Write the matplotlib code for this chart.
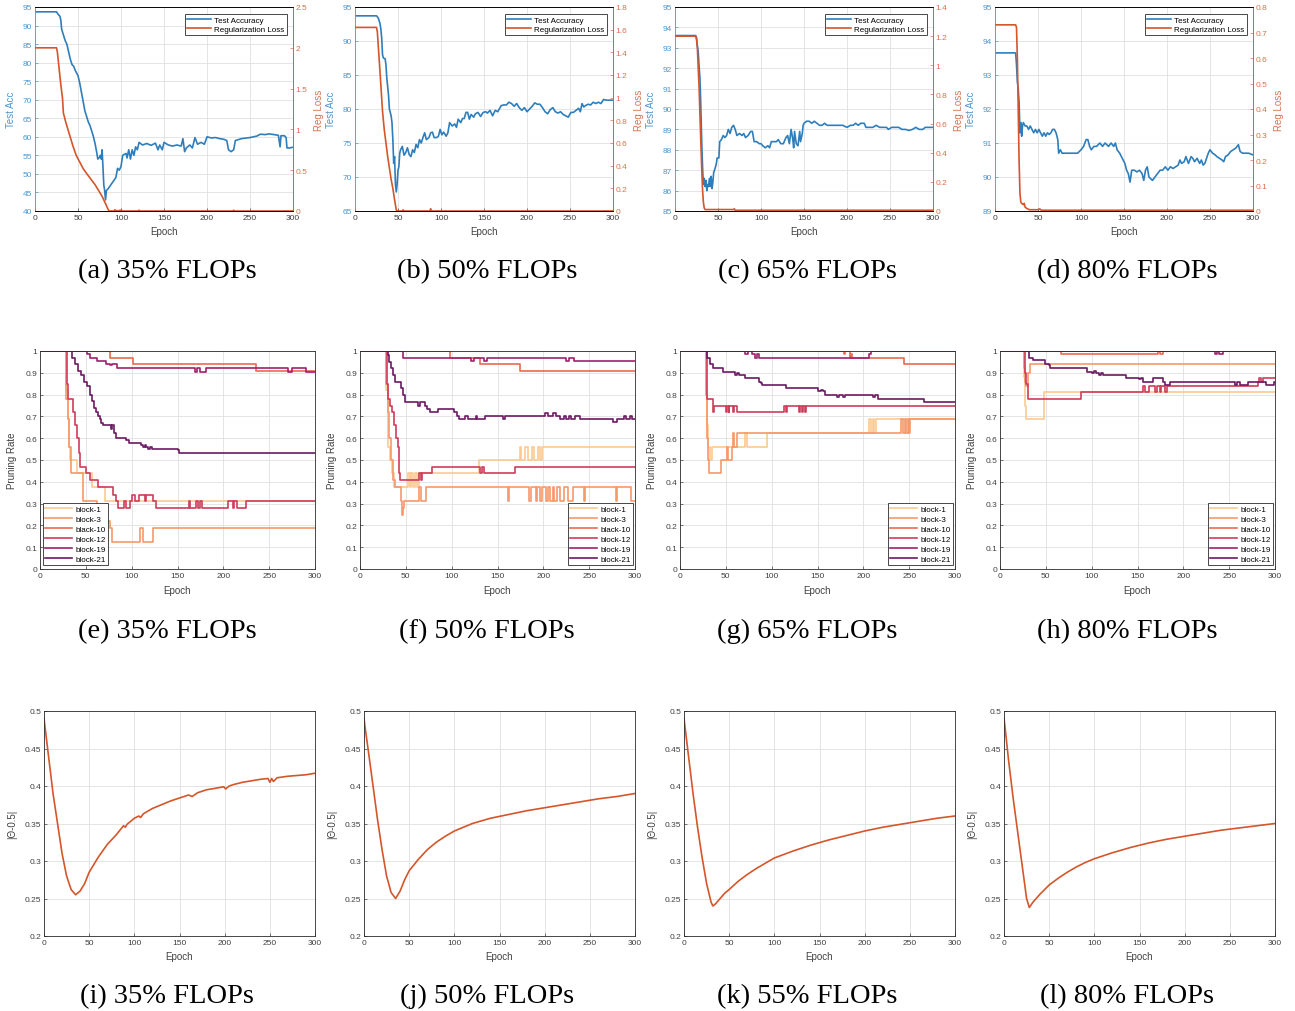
import numpy as np
import matplotlib
matplotlib.use("Agg")
import matplotlib.pyplot as plt
from matplotlib.ticker import FuncFormatter

# ---------------- data (epoch, value) ----------------
epochs_ticks = [0, 50, 100, 150, 200, 250, 300]

# row 1: test accuracy (left axis) and regularization loss (right axis)
a_acc = [(0,93.7),(25,93.7),(27,93),(29,92.5),(30,91.5),(31,89),(33,87.5),(35,86),(37,85),(39,83),(41,81),(43,79.5),(45,79),(47,77.8),(50,76.5),(52,74.5),(54,72),(56,69.5),(58,67),(60,65.5),(62,64),(64,63),(66,61.5),(68,60),(70,58),(72,55.5),(73,54),(75,54.5),(76,55),(77,54),(78,56.5),(79,52),(80,47),(81,45.5),(82,43),(83,45.5),(85,46),(88,47),(91,48),(94,49),(96,51.5),(98,51),(100,52),(102,55),(104,55.3),(106,55.5),(107,54.3),(109,56.5),(111,54),(113,56.5),(115,55),(117,57.3),(119,56.5),(121,58.5),(125,57.8),(130,58.2),(135,57.7),(140,58.3),(143,56.5),(145,57.8),(148,56.5),(150,58.5),(155,57.8),(160,57.5),(165,57.8),(170,57.5),(172,59.5),(174,56),(176,57),(180,57.8),(183,57),(186,59.8),(189,58),(193,58.5),(197,58),(200,60),(205,59.7),(210,59.8),(215,59.5),(220,59.3),(223,59),(225,56.5),(228,56),(231,56.5),(233,59),(240,59.5),(250,59.8),(258,60.2),(262,60.7),(268,60.6),(272,60.8),(278,60.6),(283,60.4),(285,57.3),(286,60.3),(290,60.3),(292,59.8),(293,57),(296,57),(300,57.2)]
a_loss = [(0,2.0),(25,2.0),(26,1.95),(28,1.75),(30,1.55),(32,1.38),(33,1.2),(36,1.08),(40,0.94),(44,0.8),(48,0.68),(52,0.6),(56,0.52),(60,0.46),(65,0.39),(70,0.32),(74,0.25),(78,0.18),(82,0.09),(85,0.02),(86,0.0),(92,0.0),(93,0.015),(95,0.0),(100,0.01),(102,0.0),(120,0.0),(121,0.01),(122,0.0),(230,0.0),(231,0.01),(232,0.0),(300,0.0)]

b_acc = [(0,93.7),(25,93.7),(27,93.4),(29,92.6),(30,91.8),(31,90.5),(32,88),(33,87.5),(35,87.4),(36,86.5),(37,84.5),(39,82),(40,80),(42,79),(43,78),(44,75.5),(45,72),(46,73),(47,69),(48,67.8),(49,69),(50,71),(51,71.5),(52,73.5),(53,74),(55,74.5),(57,73.2),(59,73.6),(61,74.3),(63,73.3),(65,73),(67,74),(69,73.6),(71,74.8),(73,74.3),(75,75.5),(77,75),(79,75.8),(81,76.5),(83,75.5),(86,75.8),(88,76.5),(90,76.6),(92,75.8),(95,75.8),(97,76),(99,77),(101,76.2),(103,76.6),(106,76),(108,76.5),(110,78),(113,77.5),(116,77.8),(118,77.3),(120,78.5),(123,78),(125,78.6),(127,78.6),(129,79.5),(131,79.5),(133,78.5),(135,79.2),(138,78.8),(140,79.3),(143,79.5),(146,78.9),(149,79.5),(152,79.6),(154,79.4),(157,79.8),(160,79),(163,79.8),(166,79.6),(170,80.5),(173,80.6),(176,80.6),(179,81),(182,80.8),(185,80.4),(188,80.8),(191,80.2),(194,79.8),(197,80.2),(200,79.6),(203,80),(206,80.4),(209,80.9),(212,80.7),(215,80.7),(218,80.2),(221,79.6),(224,79.3),(227,79.9),(230,80.2),(233,79.6),(236,79.4),(239,79.6),(242,79.2),(245,79),(248,78.8),(251,79.5),(254,79.5),(257,79.8),(260,80.1),(262,79.6),(264,80.8),(266,80.3),(268,80.5),(271,80.7),(274,80.6),(277,81),(280,80.8),(283,81),(286,80.8),(289,81.4),(292,81.3),(296,81.3),(300,81.3)]
b_loss = [(0,1.62),(25,1.62),(26,1.58),(28,1.35),(30,1.12),(32,0.88),(34,0.72),(36,0.6),(38,0.48),(40,0.38),(42,0.28),(44,0.2),(46,0.1),(48,0.01),(49,0.0),(55,0.0),(56,0.01),(57,0.0),(87,0.0),(88,0.02),(89,0.0),(300,0.0)]

c_acc = [(0,93.6),(24,93.6),(25,93.5),(26,93.1),(27,92.8),(28,92.1),(29,91.5),(30,90.2),(31,88.5),(32,87.2),(33,86.3),(34,86.6),(35,86.2),(36,86.5),(37,86),(38,86.3),(39,86.2),(40,86.6),(41,86.2),(42,86.7),(43,86.1),(44,86.4),(45,86.9),(46,87),(48,87.3),(49,87.6),(51,87.6),(52,88.4),(54,88.5),(56,88.7),(58,88.6),(60,88.7),(62,89),(64,88.8),(66,89.1),(68,89.2),(70,89),(72,88.7),(75,88.8),(78,88.7),(80,88.8),(82,88.6),(85,88.7),(88,88.9),(90,88.9),(92,88.4),(95,88.4),(98,88.3),(100,88.3),(102,88.2),(105,88.1),(108,88.2),(110,88.1),(112,88.4),(115,88.4),(118,88.4),(120,88.5),(123,88.3),(126,88.3),(129,88.6),(131,88.7),(133,88.3),(135,89),(137,88.5),(138,88.1),(139,88.9),(141,88.3),(143,88.2),(145,88.9),(146,88.4),(148,88.8),(149,89.2),(150,89.3),(153,89.4),(156,89.4),(159,89.3),(162,89.4),(165,89.3),(168,89.2),(171,89.2),(174,89.3),(177,89.2),(180,89.2),(185,89.2),(190,89.2),(195,89.2),(200,89.1),(204,89.2),(207,89.2),(210,89.3),(213,89.2),(216,89.3),(220,89.3),(222,89.1),(226,89.1),(230,89.1),(234,89.2),(238,89.1),(242,89.1),(246,89.1),(248,89),(252,89.1),(256,89.1),(260,89.1),(264,89),(268,89),(272,88.95),(276,89),(280,89.1),(284,89),(288,89),(291,89.1),(295,89.1),(300,89.1)]
c_loss = [(0,1.2),(24,1.2),(25,1.18),(26,1.12),(27,0.98),(28,0.85),(29,0.66),(30,0.48),(31,0.3),(32,0.15),(33,0.06),(34,0.02),(35,0.01),(68,0.01),(69,0.015),(70,0.005),(300,0.005)]

d_acc = [(0,93.65),(24,93.65),(25,93.3),(26,92.8),(27,92.6),(28,92.2),(29,91.3),(30,91.6),(31,91.2),(32,91.5),(33,91.6),(35,91.5),(37,91.5),(39,91.4),(41,91.5),(43,91.4),(45,91.3),(47,91.4),(49,91.3),(51,91.4),(53,91.3),(55,91.2),(57,91.3),(59,91.2),(61,91.3),(63,91.25),(65,91.3),(67,91.4),(69,91.4),(71,91.3),(72,91.2),(73,91.1),(74,90.7),(76,90.8),(78,90.7),(80,90.7),(84,90.7),(88,90.7),(92,90.7),(96,90.7),(100,90.8),(103,90.9),(106,91.1),(108,91.1),(110,90.9),(112,90.8),(115,90.9),(118,90.9),(122,91),(125,90.9),(128,91),(132,90.9),(135,91),(138,90.9),(140,91),(142,90.8),(145,90.7),(147,90.6),(149,90.5),(151,90.4),(153,90.2),(155,90.1),(157,89.85),(159,90.2),(162,90.2),(165,90.15),(168,90.2),(171,90.1),(173,89.9),(175,90.2),(177,90.3),(179,90),(181,89.95),(183,89.9),(186,90),(189,90.1),(192,90.2),(195,90.2),(198,90.3),(201,90.2),(204,90.3),(207,90.25),(210,90.3),(213,90.35),(215,90.5),(217,90.4),(220,90.45),(222,90.6),(225,90.4),(228,90.6),(230,90.55),(232,90.45),(235,90.55),(238,90.4),(240,90.5),(242,90.35),(244,90.4),(246,90.55),(248,90.7),(250,90.8),(253,90.7),(256,90.65),(258,90.6),(261,90.55),(264,90.5),(266,90.45),(268,90.6),(271,90.65),(274,90.75),(277,90.8),(280,90.85),(283,90.95),(285,90.75),(288,90.7),(291,90.7),(295,90.7),(300,90.65)]
d_loss = [(0,0.73),(24,0.73),(25,0.72),(26,0.6),(27,0.4),(28,0.2),(29,0.07),(30,0.035),(31,0.03),(33,0.025),(34,0.03),(35,0.015),(37,0.01),(40,0.005),(50,0.005),(52,0.008),(54,0.003),(300,0.003)]

acc_lims = [(40, 95, 5), (65, 95, 5), (85, 95, 1), (89, 95, 1)]
loss_lims = [(0, 2.5, 0.5), (0, 1.8, 0.2), (0, 1.4, 0.2), (0, 0.8, 0.1)]

# row 2: pruning rate per block (step curves)
block_names = ["block-1", "block-3", "black-10", "block-12", "block-19", "block-21"]
block_colors = ["#fdc990", "#f6986a", "#ea6a52", "#cf3d5c", "#a0216c", "#6c1a63"]

e_b1 = [(0,1),(26,1),(28,0.82),(30,0.69),(32,0.56),(33,0.5),(38,0.5),(40,0.44),(55,0.44),(57,0.375),(70,0.375),(71,0.31),(300,0.31)]
e_b3 = [(0,1),(26,1),(28,0.78),(30,0.69),(32,0.56),(34,0.44),(45,0.44),(47,0.31),(60,0.31),(62,0.28),(70,0.28),(72,0.22),(76,0.19),(78,0.125),(108,0.125),(109,0.19),(111,0.19),(112,0.125),(122,0.125),(123,0.19),(300,0.19)]
e_b10 = [(0,1),(75,1),(76,0.97),(100,0.97),(101,0.94),(235,0.94),(236,0.906),(300,0.906)]
e_b12 = [(0,1),(27,1),(29,0.85),(30,0.78),(34,0.78),(36,0.72),(38,0.66),(40,0.6),(42,0.53),(44,0.47),(48,0.47),(50,0.44),(55,0.41),(61,0.41),(63,0.375),(77,0.375),(80,0.34),(83,0.31),(85,0.28),(91,0.28),(92,0.31),(94,0.28),(98,0.31),(100,0.34),(104,0.31),(108,0.34),(113,0.34),(114,0.31),(116,0.34),(121,0.34),(123,0.31),(126,0.28),(161,0.28),(162,0.31),(164,0.28),(170,0.31),(172,0.28),(174,0.31),(177,0.28),(204,0.28),(205,0.31),(210,0.28),(212,0.31),(215,0.28),(224,0.28),(225,0.31),(300,0.31)]
e_b19 = [(0,1),(50,1),(51,0.985),(55,0.97),(62,0.955),(72,0.94),(76,0.935),(78,0.94),(84,0.92),(168,0.92),(169,0.905),(171,0.92),(175,0.905),(181,0.92),(270,0.92),(271,0.905),(275,0.92),(289,0.92),(290,0.905),(300,0.905)]
e_b21 = [(0,1),(33,1),(35,0.97),(38,0.94),(41,0.91),(45,0.89),(48,0.86),(51,0.84),(54,0.8),(57,0.77),(59,0.74),(61,0.72),(63,0.7),(65,0.69),(67,0.67),(69,0.66),(76,0.66),(77,0.64),(78,0.66),(81,0.625),(83,0.6),(94,0.59),(97,0.58),(110,0.57),(112,0.56),(114,0.57),(116,0.56),(118,0.55),(120,0.56),(122,0.55),(150,0.545),(152,0.53),(300,0.53)]

f_b1 = [(0,1),(26,1),(28,0.82),(30,0.65),(31,0.56),(33,0.5),(35,0.44),(37,0.375),(50,0.375),(52,0.44),(54,0.375),(56,0.44),(58,0.375),(60,0.44),(62,0.375),(64,0.44),(128,0.44),(130,0.5),(172,0.5),(174,0.56),(176,0.5),(180,0.56),(183,0.5),(188,0.56),(190,0.5),(194,0.56),(196,0.5),(198,0.56),(300,0.56)]
f_b3 = [(0,1),(26,1),(28,0.85),(30,0.72),(32,0.6),(34,0.5),(36,0.41),(38,0.375),(44,0.375),(45,0.31),(46,0.25),(47,0.28),(48,0.31),(63,0.31),(64,0.375),(66,0.31),(71,0.31),(72,0.375),(160,0.375),(161,0.31),(163,0.375),(183,0.375),(184,0.31),(186,0.375),(191,0.375),(192,0.31),(193,0.375),(196,0.31),(198,0.375),(203,0.31),(205,0.375),(207,0.31),(210,0.375),(212,0.31),(215,0.375),(218,0.31),(222,0.375),(227,0.31),(232,0.375),(243,0.375),(244,0.31),(245,0.375),(278,0.375),(279,0.31),(280,0.375),(295,0.375),(296,0.31),(300,0.31)]
f_b10 = [(0,1),(97,1),(98,0.97),(130,0.97),(131,0.94),(173,0.94),(174,0.906),(300,0.906)]
f_b12 = [(0,1),(27,1),(29,0.85),(30,0.78),(33,0.75),(35,0.72),(37,0.66),(39,0.6),(41,0.56),(42,0.5),(43,0.44),(44,0.41),(63,0.41),(64,0.44),(66,0.41),(68,0.44),(77,0.44),(78,0.47),(130,0.47),(131,0.44),(133,0.47),(135,0.44),(168,0.44),(169,0.47),(300,0.47)]
f_b19 = [(0,1),(45,1),(47,0.97),(120,0.97),(121,0.955),(124,0.97),(134,0.97),(135,0.955),(138,0.97),(224,0.97),(225,0.955),(228,0.97),(232,0.97),(233,0.955),(300,0.955)]
f_b21 = [(0,1),(28,1),(30,0.98),(32,0.95),(34,0.92),(36,0.89),(38,0.86),(44,0.86),(45,0.83),(47,0.8),(49,0.765),(62,0.765),(63,0.75),(65,0.765),(70,0.765),(71,0.75),(73,0.735),(76,0.72),(84,0.72),(85,0.735),(100,0.735),(102,0.72),(106,0.7),(108,0.69),(114,0.69),(115,0.7),(118,0.69),(125,0.69),(126,0.7),(128,0.69),(135,0.69),(136,0.7),(155,0.7),(156,0.69),(158,0.7),(200,0.7),(202,0.715),(205,0.7),(210,0.715),(214,0.7),(218,0.69),(222,0.7),(225,0.69),(228,0.7),(230,0.69),(234,0.7),(240,0.69),(275,0.69),(276,0.675),(280,0.69),(287,0.69),(288,0.7),(290,0.69),(295,0.7),(297,0.69),(300,0.69)]

g_b1 = [(0,1),(26,1),(28,0.82),(30,0.66),(31,0.56),(33,0.5),(35,0.56),(70,0.56),(71,0.625),(73,0.56),(94,0.56),(95,0.625),(205,0.625),(206,0.69),(208,0.625),(210,0.69),(212,0.625),(214,0.69),(300,0.69)]
g_b3 = [(0,1),(26,1),(28,0.8),(30,0.6),(31,0.5),(32,0.44),(44,0.44),(45,0.5),(50,0.5),(51,0.56),(52,0.5),(56,0.5),(57,0.56),(58,0.625),(59,0.56),(62,0.625),(240,0.625),(241,0.69),(243,0.625),(245,0.69),(247,0.625),(249,0.69),(250,0.625),(251,0.69),(300,0.69)]
g_b10 = [(0,1),(178,1),(179,0.985),(180,1),(185,0.97),(186,0.985),(188,0.97),(243,0.97),(244,0.94),(300,0.94)]
g_b12 = [(0,1),(27,1),(29,0.85),(30,0.78),(35,0.78),(36,0.72),(37,0.75),(49,0.75),(50,0.72),(51,0.75),(53,0.72),(54,0.75),(57,0.75),(58,0.72),(59,0.75),(61,0.75),(62,0.72),(113,0.72),(114,0.75),(116,0.72),(117,0.75),(129,0.75),(130,0.72),(131,0.75),(133,0.72),(134,0.75),(136,0.72),(137,0.75),(300,0.75)]
g_b19 = [(0,1),(70,1),(71,0.985),(74,1),(78,1),(79,0.985),(82,0.97),(84,0.985),(86,0.97),(205,0.97),(206,0.985),(208,1),(300,1)]
g_b21 = [(0,1),(28,1),(30,0.97),(33,0.94),(36,0.92),(46,0.92),(47,0.905),(59,0.905),(60,0.89),(62,0.9),(64,0.89),(70,0.89),(71,0.875),(84,0.875),(86,0.86),(88,0.855),(90,0.845),(115,0.845),(116,0.83),(150,0.83),(151,0.815),(154,0.82),(156,0.815),(158,0.8),(170,0.8),(171,0.79),(173,0.8),(178,0.79),(180,0.8),(210,0.8),(211,0.79),(213,0.8),(216,0.78),(265,0.78),(266,0.765),(300,0.765)]

h_b1 = [(0,1),(25,1),(26,0.88),(27,0.75),(28,0.69),(47,0.69),(48,0.81),(300,0.81)]
h_b3 = [(0,1),(25,1),(26,0.92),(27,0.86),(28,0.84),(30,0.875),(31,0.9),(33,0.94),(300,0.94)]
h_b10 = [(0,1),(66,1),(67,0.985),(170,0.985),(172,1),(174,0.985),(176,0.985),(178,1),(300,1)]
h_b12 = [(0,1),(26,1),(27,0.9),(28,0.85),(30,0.8),(31,0.78),(87,0.78),(88,0.81),(155,0.81),(156,0.84),(158,0.81),(162,0.84),(168,0.84),(169,0.81),(171,0.84),(174,0.81),(176,0.84),(179,0.84),(180,0.81),(182,0.84),(280,0.84),(281,0.86),(283,0.875),(285,0.86),(287,0.875),(300,0.875)]
h_b19 = [(0,1),(234,1),(235,0.985),(237,1),(239,0.985),(242,0.985),(243,1),(300,1)]
h_b21 = [(0,1),(30,1),(32,0.97),(36,0.96),(47,0.96),(49,0.94),(53,0.935),(55,0.92),(93,0.92),(95,0.905),(100,0.9),(102,0.91),(105,0.9),(108,0.89),(110,0.9),(112,0.89),(135,0.89),(137,0.875),(150,0.875),(152,0.87),(154,0.875),(156,0.86),(165,0.86),(167,0.875),(176,0.875),(178,0.86),(180,0.845),(183,0.845),(185,0.86),(255,0.86),(256,0.845),(258,0.86),(262,0.845),(270,0.845),(271,0.86),(289,0.86),(290,0.845),(298,0.845),(299,0.86),(300,0.86)]

# row 3: |theta - 0.5|
i_theta = [(0,0.49),(1,0.48),(5,0.44),(10,0.39),(15,0.35),(20,0.31),(25,0.28),(30,0.262),(35,0.255),(40,0.26),(45,0.27),(50,0.285),(60,0.305),(70,0.322),(80,0.335),(88,0.347),(90,0.345),(92,0.349),(100,0.357),(105,0.36),(107,0.358),(110,0.363),(120,0.37),(130,0.375),(140,0.38),(150,0.384),(160,0.388),(164,0.386),(170,0.391),(180,0.395),(190,0.397),(199,0.399),(201,0.396),(205,0.4),(210,0.402),(220,0.405),(230,0.407),(240,0.409),(248,0.41),(250,0.405),(252,0.41),(254,0.406),(258,0.411),(270,0.413),(280,0.414),(290,0.415),(300,0.417)]
j_theta = [(0,0.49),(1,0.48),(5,0.445),(10,0.4),(15,0.355),(20,0.315),(25,0.28),(30,0.258),(35,0.25),(40,0.26),(45,0.275),(50,0.287),(60,0.302),(70,0.315),(80,0.325),(90,0.333),(100,0.34),(120,0.35),(140,0.357),(160,0.362),(180,0.367),(200,0.371),(220,0.375),(240,0.379),(260,0.383),(280,0.386),(300,0.39)]
k_theta = [(0,0.49),(1,0.48),(5,0.44),(10,0.39),(15,0.345),(20,0.305),(25,0.27),(30,0.245),(32,0.24),(35,0.243),(40,0.25),(45,0.257),(50,0.262),(60,0.273),(70,0.282),(80,0.29),(90,0.297),(100,0.304),(120,0.313),(140,0.321),(160,0.328),(180,0.334),(200,0.34),(220,0.345),(240,0.349),(260,0.353),(280,0.357),(300,0.36)]
l_theta = [(0,0.49),(1,0.48),(5,0.435),(10,0.385),(15,0.34),(20,0.295),(25,0.25),(28,0.238),(32,0.245),(40,0.256),(50,0.268),(60,0.277),(70,0.285),(80,0.292),(90,0.298),(100,0.303),(120,0.311),(140,0.318),(160,0.324),(180,0.329),(200,0.333),(220,0.337),(240,0.341),(260,0.344),(280,0.347),(300,0.35)]

captions_row1 = ["(a) 35% FLOPs", "(b) 50% FLOPs", "(c) 65% FLOPs", "(d) 80% FLOPs"]
captions_row2 = ["(e) 35% FLOPs", "(f) 50% FLOPs", "(g) 65% FLOPs", "(h) 80% FLOPs"]
captions_row3 = ["(i) 35% FLOPs", "(j) 50% FLOPs", "(k) 55% FLOPs", "(l) 80% FLOPs"]

# ---------------- styling ----------------
plt.rcParams['font.family'] = ['Liberation Sans', 'DejaVu Sans']
blue = "#2f7ebc"
orange = "#d4562a"
blue_txt = "#4d96cc"
orange_txt = "#d9714c"
txt = "#404040"
W, H = 1295.0, 1012.0
gfmt = FuncFormatter(lambda v, p: "%g" % round(v, 4))


def xy(pairs):
    arr = np.array(pairs, dtype=float)
    return arr[:, 0], arr[:, 1]


def box(left, top, right, bottom):
    # pixel box -> figure fraction
    return [left / W, 1 - bottom / H, (right - left) / W, (bottom - top) / H]


def matlab_style(ax):
    ax.set_xlim(0, 300)
    ax.set_xticks(epochs_ticks)
    ax.grid(True, color="#e0e0e0", linewidth=0.6)
    ax.set_axisbelow(True)
    ax.tick_params(direction="in", length=2.5, width=0.5, labelsize=6, colors=txt, pad=2)
    for s in ax.spines.values():
        s.set_color("#2a2a2a")
        s.set_linewidth(0.6)


def caption(i, y_px, text):
    fig.text((167 + 320 * i) / W, 1 - y_px / H, text, family="Liberation Serif",
             fontsize=20.5, ha="center", va="center")


fig = plt.figure(figsize=(12.95, 10.12), dpi=100)

# ---------------- row 1 ----------------
row1_acc = [a_acc, b_acc, c_acc, d_acc]
row1_loss = [a_loss, b_loss, c_loss, d_loss]
for i in range(4):
    x0 = 35 + 320 * i
    ax = fig.add_axes(box(x0, 8, x0 + 258, 212))
    matlab_style(ax)
    lo, hi, st = acc_lims[i]
    ax.set_ylim(lo, hi)
    ax.set_yticks(np.arange(lo, hi + st / 2, st))
    ax.yaxis.set_major_formatter(gfmt)
    ax.tick_params(axis="y", colors=blue_txt)
    ax.spines["left"].set_color(blue_txt)
    x, y = xy(row1_acc[i])
    l1, = ax.plot(x, y, color=blue, lw=1.2, label="Test Accuracy")
    ax.set_ylabel("Test Acc", fontsize=7, color=blue_txt)
    ax.yaxis.set_label_coords(-19 / 258, 0.5)
    ax.set_xlabel("Epoch", fontsize=7, color=txt)
    ax.xaxis.set_label_coords(0.5, -15 / 204)

    ax2 = ax.twinx()
    lo, hi, st = loss_lims[i]
    ax2.set_ylim(lo, hi)
    ax2.set_yticks(np.arange(lo, hi + st / 2, st))
    ax2.yaxis.set_major_formatter(gfmt)
    ax2.tick_params(direction="in", length=2.5, width=0.5, labelsize=6, colors=orange_txt, pad=2)
    for s in ax2.spines.values():
        s.set_linewidth(0.6)
    ax2.spines["right"].set_color(orange_txt)
    ax2.spines["left"].set_visible(False)
    x, y = xy(row1_loss[i])
    l2, = ax2.plot(x, y, color=orange, lw=1.2, label="Regularization Loss")
    ax2.set_ylabel("Reg Loss", fontsize=7, color=orange_txt)
    ax2.yaxis.set_label_coords(1 + 21 / 258, 0.5)
    leg = ax2.legend([l1, l2], ["Test Accuracy", "Regularization Loss"], loc="upper right",
                     bbox_to_anchor=(0.975, 0.965), borderaxespad=0, fontsize=5.8,
                     fancybox=False, framealpha=1, edgecolor="#2a2a2a",
                     handlelength=3.0, labelspacing=0.15, borderpad=0.25, handletextpad=0.4)
    leg.get_frame().set_linewidth(0.6)
    caption(i, 271.5, captions_row1[i])

# ---------------- row 2 ----------------
row2 = [[e_b1, e_b3, e_b10, e_b12, e_b19, e_b21],
        [f_b1, f_b3, f_b10, f_b12, f_b19, f_b21],
        [g_b1, g_b3, g_b10, g_b12, g_b19, g_b21],
        [h_b1, h_b3, h_b10, h_b12, h_b19, h_b21]]
for i in range(4):
    x0 = 40 + 320 * i
    ax = fig.add_axes(box(x0, 352, x0 + 275, 570))
    matlab_style(ax)
    ax.set_ylim(0, 1)
    ax.set_yticks(np.arange(0, 1.05, 0.1))
    ax.yaxis.set_major_formatter(gfmt)
    for k, series in enumerate(row2[i]):
        x, y = xy(series)
        ax.plot(x, y, drawstyle="steps-post", color=block_colors[k], lw=1.2, label=block_names[k])
    ax.set_ylabel("Pruning Rate", fontsize=7, color=txt)
    ax.yaxis.set_label_coords(-23 / 275, 0.5)
    ax.set_xlabel("Epoch", fontsize=7, color=txt)
    ax.xaxis.set_label_coords(0.5, -16 / 218)
    if i == 0:
        loc, anchor = "lower left", (0.011, 0.018)
    else:
        loc, anchor = "lower right", (0.993, 0.018)
    leg = ax.legend(loc=loc, bbox_to_anchor=anchor, borderaxespad=0, fontsize=5.8,
                    fancybox=False, framealpha=1, edgecolor="#2a2a2a",
                    handlelength=3.3, labelspacing=0.28, borderpad=0.3, handletextpad=0.4)
    leg.get_frame().set_linewidth(0.6)
    caption(i, 631.5, captions_row2[i])

# ---------------- row 3 ----------------
row3 = [i_theta, j_theta, k_theta, l_theta]
for i in range(4):
    x0 = 44 + 320 * i
    ax = fig.add_axes(box(x0, 712, x0 + 271, 937))
    matlab_style(ax)
    ax.set_ylim(0.2, 0.5)
    ax.set_yticks(np.arange(0.2, 0.501, 0.05))
    ax.yaxis.set_major_formatter(gfmt)
    x, y = xy(row3[i])
    ax.plot(x, y, color=orange, lw=1.2)
    ax.set_ylabel("|\u0398-0.5|", fontsize=7, color=txt)
    ax.yaxis.set_label_coords(-27 / 271, 0.5)
    ax.set_xlabel("Epoch", fontsize=7, color=txt)
    ax.xaxis.set_label_coords(0.5, -15 / 225)
    caption(i, 996.5, captions_row3[i])

fig.savefig("out.png", dpi=100)
